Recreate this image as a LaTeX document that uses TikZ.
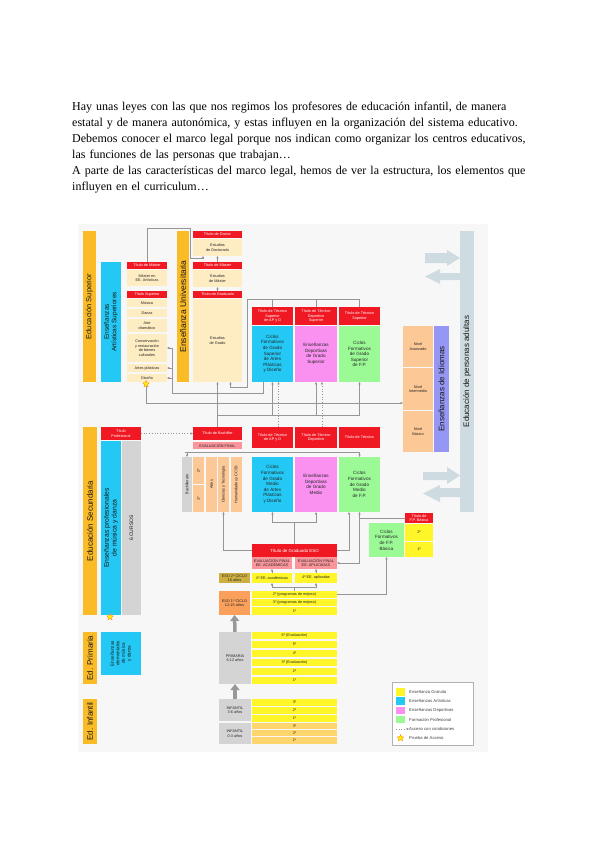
\documentclass[tikz,border=0pt]{standalone}
\usepackage{fontspec}
\setmainfont{Liberation Serif}
\newfontfamily\dsans{Liberation Sans}
\usetikzlibrary{arrows.meta,shapes.geometric}
\definecolor{cOr}{RGB}{251,187,39}
\definecolor{cCy}{RGB}{35,200,245}
\definecolor{cRd}{RGB}{240,25,35}
\definecolor{cCr}{RGB}{254,236,195}
\definecolor{cPkL}{RGB}{250,150,155}
\definecolor{cMg}{RGB}{250,145,240}
\definecolor{cGr}{RGB}{155,250,150}
\definecolor{cYe}{RGB}{255,245,40}
\definecolor{cOL}{RGB}{252,200,150}
\definecolor{cGy}{RGB}{212,212,212}
\definecolor{cOv}{RGB}{205,175,65}
\definecolor{cOE}{RGB}{250,160,90}
\definecolor{cPu}{RGB}{150,150,245}
\definecolor{cAd}{RGB}{206,219,225}
\definecolor{cI0}{RGB}{255,214,110}
\definecolor{cBg}{RGB}{247,247,247}
\definecolor{cLn}{RGB}{150,150,150}
\definecolor{cAr}{RGB}{70,70,70}
\newcommand\bx[6][]{\node[bx,minimum width=#4pt,minimum height=#5pt,#1] (#2) at (#3) {#6};}
\newcommand\vtext[4]{\node[rotate=90,align=center,inner sep=0pt,text=black!90,font=\dsans\fontsize{#3}{#4}\selectfont] at (#1.center) {#2};}
\begin{document}
\begin{tikzpicture}[x=1pt,y=-1pt,
 bx/.style={inner sep=0pt,outer sep=0pt,anchor=north west,align=center,text=black!85,font=\dsans\fontsize{3.8}{4.5}\selectfont},
 fR/.style={fill=cRd,text=white},
 fC/.style={fill=cCr},
 fO/.style={fill=cOr},
 fB/.style={fill=cCy},
 fP/.style={fill=cPkL},
 fM/.style={fill=cMg},
 fG/.style={fill=cGr},
 fY/.style={fill=cYe},
 fL/.style={fill=cOL},
 fS/.style={fill=cGy},
 big/.style={font=\dsans\fontsize{4.6}{5.6}\selectfont},
 ln/.style={draw=cLn,line width=0.7pt},
 arw/.style={-{Triangle[length=2.4pt,width=2.2pt,fill=cAr]}},
 garw/.style={draw=gray!80,line width=3.5pt,-{Triangle[length=6pt,width=9pt]}},
 bigar/.style={fill=cAd},
 starx/.style={star,star points=5,star point ratio=2.2,fill=yellow,draw=orange,line width=0.3pt,minimum size=7pt,inner sep=0pt}]
\fill[white] (0,0) rectangle (600,848);
\useasboundingbox (0,0) rectangle (600,848);
\fill[cBg] (78,224) rectangle (488,752);

% paragraph
\node[anchor=north west,inner sep=0pt,text width=456pt,align=left,font=\fontsize{12}{15.9}\selectfont] (para) at (72,102) {%
\makebox[456pt][s]{Hay unas leyes con las que nos regimos los profesores de educación infantil, de manera}\\
\makebox[456pt][s]{estatal y de manera autonómica, y estas influyen en la organización del sistema educativo.}\\
\makebox[456pt][s]{Debemos conocer el marco legal porque nos indican como organizar los centros educativos,}\\
las funciones de las personas que trabajan…\\
\makebox[456pt][s]{A parte de las características del marco legal, hemos de ver la estructura, los elementos que}\\
influyen en el curriculum…};

% ===== Educacion superior =====
\bx[fO]{edsup}{83,231}{13}{151}{}
\vtext{edsup}{Educación Superior}{7.5}{8}
\bx[fB]{eas}{101,262}{20}{120}{}
\vtext{eas}{Enseñanzas\\Artísticas Superiores}{6.5}{7.5}
\bx[fR]{martt}{127,262}{40}{7}{Título de Máster}
\bx[fC]{mart}{127,270}{40}{16}{Máster en\\EE. Artísticas}
\bx[fR]{tsup}{127,291}{40}{7}{Título Superior}
\bx[fC]{mus}{127,299}{40}{8}{Música}
\bx[fC]{dan}{127,309}{40}{8}{Danza}
\bx[fC]{arte}{127,319}{40}{13}{Arte\\dramático}
\bx[fC]{cons}{127,334}{40}{28}{Conservación\\y restauración\\de bienes\\culturales}
\bx[fC]{apl}{127,364}{40}{8}{Artes plásticas}
\bx[fC]{dis}{127,374}{40}{8}{Diseño}
\node[starx] (starA) at (146,384) {};

\bx[fO]{univ}{177,231}{12}{151}{}
\vtext{univ}{Enseñanza Universitaria}{8.5}{9}
\bx[fR]{tdoc}{193,231}{49}{7}{Título de Doctor}
\bx[fC]{edoc}{193,239}{49}{17}{Estudios\\de Doctorado}
\bx[fR]{tmas}{193,262}{49}{7}{Título de Máster}
\bx[fC]{emas}{193,270}{49}{17}{Estudios\\de Máster}
\bx[fR]{tgra}{193,291}{49}{7}{Título de Graduado}
\bx[fC]{egra}{193,299}{49}{83}{Estudios\\de Grado}

\bx[fR]{tts1}{252,307}{41}{18}{Título de Técnico\\Superior\\de AP y D}
\bx[fB,big]{cs1}{252,326}{41}{56}{Ciclos\\Formativos\\de Grado\\Superior\\de Artes\\Plásticas\\y Diseño}
\bx[fR]{tts2}{295,307}{42}{18}{Título de Técnico\\Deportivo\\Superior}
\bx[fM,big]{cs2}{295,326}{42}{56}{Enseñanzas\\Deportivas\\de Grado\\Superior}
\bx[fR]{tts3}{339,307}{41}{18}{Título de Técnico\\Superior}
\bx[fG,big]{cs3}{339,326}{41}{56}{Ciclos\\Formativos\\de Grado\\Superior\\de F.P.}

% idiomas and adultos
\bx[fL]{niv1}{403,326}{30}{41}{Nivel\\Avanzado}
\bx[fL]{niv2}{403,368}{30}{42}{Nivel\\Intermedio}
\bx[fL]{niv3}{403,411}{30}{41}{Nivel\\Básico}
\bx[fill=cPu]{idi}{434,326}{15}{126}{}
\vtext{idi}{Enseñanzas de Idiomas}{8}{8}
\bx[fill=cAd]{adul}{460,231}{14}{281}{}
\vtext{adul}{Educación de personas adultas}{8}{8}
\fill[bigar] (425,253) -- (447,253) -- (447,250) -- (460,258) -- (447,266) -- (447,263) -- (425,263) -- cycle;
\fill[bigar] (460,273) -- (440,273) -- (440,269) -- (425,276.5) -- (440,284) -- (440,280) -- (460,280) -- cycle;
\fill[bigar] (423,472) -- (447,472) -- (447,467) -- (460,475.5) -- (447,484) -- (447,480) -- (423,480) -- cycle;
\fill[bigar] (460,488) -- (440,488) -- (440,485) -- (423,493.5) -- (440,502) -- (440,497) -- (460,497) -- cycle;

% ===== Secundaria =====
\bx[fO]{edsec}{83,427}{14}{188}{}
\vtext{edsec}{Educación Secundaria}{8}{8}
\bx[fR]{tprof}{101,427}{40}{13}{Título\\Profesional}
\bx[fB]{epmd}{101,441}{20}{174}{}
\vtext{epmd}{Enseñanzas profesionales\\de música y danza}{6.8}{7.8}
\bx[fS]{cur6}{122,441}{19}{174}{}
\vtext{cur6}{6 CURSOS}{5}{5}
\node[starx] (starB) at (110,617) {};

\bx[fR]{tbach}{193,427}{49}{13}{Título de Bachiller}
\bx[fP]{evf}{193,442}{49}{7}{EVALUACIÓN FINAL}
\bx[fS]{bach}{182,457}{10}{55}{}
\vtext{bach}{Bachillerato}{3.8}{4}
\bx[fL]{b2}{193,457}{11}{27}{}
\vtext{b2}{2º}{3.8}{4}
\bx[fL]{b1}{193,485}{11}{27}{}
\vtext{b1}{1º}{3.8}{4}
\bx[fL]{bart}{206,457}{11}{55}{}
\vtext{bart}{Artes}{3.8}{4}
\bx[fL]{bct}{218,457}{11}{55}{}
\vtext{bct}{Ciencias y Tecnología}{3.8}{4}
\bx[fL]{bhum}{231,457}{11}{55}{}
\vtext{bhum}{Humanidades y CCSS}{3.8}{4}

\bx[fR]{ttm1}{252,427}{41}{21}{Título de Técnico\\de AP y D}
\bx[fR]{ttm2}{295,427}{42}{21}{Título de Técnico\\Deportivo}
\bx[fR]{ttm3}{339,427}{41}{21}{Título de Técnico}
\bx[fB,big]{cm1}{252,457}{41}{55}{Ciclos\\Formativos\\de Grado\\Medio\\de Artes\\Plásticas\\y Diseño}
\bx[fM,big]{cm2}{295,457}{42}{55}{Enseñanzas\\Deportivas\\de Grado\\Medio}
\bx[fG,big]{cm3}{339,457}{41}{55}{Ciclos\\Formativos\\de Grado\\Medio\\de F.P.}

\bx[fR]{tfpb}{405,513}{28}{10}{Título de\\F.P. Básica}
\bx[fY]{fpb2}{405,524}{28}{17}{2º}
\bx[fY]{fpb1}{405,542}{28}{15}{1º}
\bx[fG,big]{cfpb}{369,523}{35}{34}{Ciclos\\Formativos\\de F.P.\\Básica}

\bx[fR,font=\dsans\fontsize{4.4}{5}\selectfont]{tgeso}{252,544}{85}{13}{Título de Graduado ESO}
\bx[fP]{eva}{252,557}{40}{12}{EVALUACIÓN FINAL\\EE. ACADÉMICAS}
\bx[fP]{evp}{295,557}{42}{12}{EVALUACIÓN FINAL\\EE. APLICADAS}
\bx[fill=cOv]{eso2}{219,573}{31}{10}{ESO 2º CICLO\\16 años}
\bx[fY]{c4a}{252,573}{40}{10}{4º EE. académicas}
\bx[fY]{c4p}{295,573}{42}{10}{4º EE. aplicadas}
\bx[fill=cOE]{eso1}{219,591}{31}{24}{ESO 1º CICLO\\12-15 años}
\bx[fY]{p2}{252,591}{85}{7}{2º (programas de mejora)}
\bx[fY]{p3}{252,599}{85}{7}{3º (programas de mejora)}
\bx[fY]{p1}{252,607}{85}{8}{1º}

% ===== Primaria =====
\bx[fO]{edpri}{83,632}{14}{52}{}
\vtext{edpri}{Ed. Primaria}{8}{8}
\bx[fB]{eemd}{101,632}{40}{43}{}
\vtext{eemd}{Enseñanzas\\elementales\\de música\\y danza}{4.6}{5.6}
\bx[fS]{prim}{219,632}{32}{52}{PRIMARIA\\6-12 años}
\bx[fY]{pr6}{252,632}{85}{7}{6º (Evaluación)}
\bx[fY]{pr5}{252,641}{85}{7}{5º}
\bx[fY]{pr4}{252,650}{85}{7}{4º}
\bx[fY]{pr3}{252,659}{85}{7}{3º (Evaluación)}
\bx[fY]{pr2}{252,668}{85}{7}{2º}
\bx[fY]{pr1}{252,677}{85}{7}{1º}

% ===== Infantil =====
\bx[fO]{edinf}{83,699}{14}{45}{}
\vtext{edinf}{Ed. Infantil}{8}{8}
\bx[fS]{inf36}{219,699}{32}{22}{INFANTIL\\3-6 años}
\bx[fY]{i3}{252,699}{85}{6.5}{3º}
\bx[fY]{i2}{252,707}{85}{6.5}{2º}
\bx[fY]{i1}{252,715}{85}{6.5}{1º}
\bx[fS]{inf03}{219,723}{32}{21}{INFANTIL\\0-3 años}
\bx[fill=cI0]{j3}{252,723}{85}{6}{3º}
\bx[fill=cI0]{j2}{252,730}{85}{6}{2º}
\bx[fill=cI0]{j1}{252,737}{85}{7}{1º}

% ===== connectors =====
\draw[ln,arw] (martt.north) |- (190,228) -- (190,258) -| ([xshift=-14.5pt]edoc.south);
\draw[ln,arw] (tmas.north) -- (edoc.south);
\draw[ln,arw] (tgra.north) -- (emas.south);
\draw[ln,arw] (tbach.north) -- (egra.south);
\draw[ln] (tts1.north) -- ++(0,-8);
\draw[ln] (tts2.north) -- ++(0,-8);
\draw[ln,arw] (tts3.north) -- ++(0,-8) -| (247,387) -| ([xshift=13pt]egra.south);
\coordinate (k) at (172,393);
\draw[ln] ([xshift=-9.5pt]cs1.south) |- (k) -- (k |- cons.east);
\draw[ln,arw] (k |- cons.east) -- (cons.east);
\draw[ln,arw] (k |- apl.east) -- (apl.east);
\draw[ln,arw] (k |- dis.east) -- (dis.east);
\draw[ln,arw] (starA.south) |- ([yshift=-14pt]niv2.west);
\coordinate (m) at (217.5,415);
\draw[ln] (m) -- (359.5,415);
\draw[ln,arw] (m -| cs1.south) -- (cs1.south);
\draw[ln,arw] (m -| cs2.south) -- (cs2.south);
\draw[ln,arw] (m -| cs3.south) -- (cs3.south);
\draw[ln,dotted,arw] ([xshift=6pt]ttm1.north) -- ([xshift=6pt]cs1.south);
\draw[ln,dotted,arw] ([xshift=6pt]ttm2.north) -- ([xshift=6pt]cs2.south);
\draw[ln,dotted,arw] (tprof.east) -- (tbach.west);
\coordinate (q) at (185,452);
\draw[ln] (q) -- (359.5,452);
\draw[ln,arw] (q -| bach.north) -- (bach.north);
\draw[ln,arw] (q -| cm3.north) -- (cm3.north);
\draw[ln,arw] (tgeso.west) -| (bct.south);
\draw[ln,arw] (tgeso.north) -- ++(0,-22) -| (cm1.south);
\draw[ln,arw] (tgeso.north) -- ++(0,-22) -| (cm2.south);
\draw[ln,arw] (tgeso.east) -| ([xshift=-10.5pt]cm3.south);
\draw[ln,arw] (tfpb.west) -| (cm3.south);
\draw[ln,arw] (359.5,518) |- (evp.east);
\draw[ln,arw] (p2.east) -| (cfpb.south);
\draw[ln,arw] (p2.north) -- ++(0,-4) -| (c4a.south);
\draw[ln,arw] (p2.north) -- ++(0,-4) -| (c4p.south);
\draw[ln,arw] (c4a.north) -- (eva.south);
\draw[ln,arw] (c4p.north) -- (evp.south);
\draw[garw] (prim.north) -- (eso1.south);
\draw[garw] (inf36.north) -- (prim.south);

% ===== legend =====
\node[draw=gray!60,fill=white,line width=0.4pt,minimum width=81pt,minimum height=63pt,anchor=north west,inner sep=0pt] (leg) at (392,682) {};
\begin{scope}[every node/.style={anchor=west,inner sep=0pt,text=black!75,font=\dsans\fontsize{4.2}{5}\selectfont}]
\fill[cYe] (396,688) rectangle (405,696); \node (l1) at (409,692) {Enseñanza Gratuita};
\fill[cCy] (396,697) rectangle (405,705); \node (l2) at (409,701) {Enseñanzas Artísticas};
\fill[cMg] (396,707) rectangle (405,714); \node (l3) at (409,710.5) {Enseñanzas Deportivas};
\fill[cGr] (396,716) rectangle (405,723); \node (l4) at (409,719.5) {Formación Profesional};
\node (l5) at (409,729) {Acceso con condiciones};
\node (l6) at (409,738) {Prueba de Acceso};
\end{scope}
\draw[ln,dotted,arw] (396,729) -- (l5.west);
\node[starx] (starL) at (400.5,738) {};
\end{tikzpicture}
\end{document}
